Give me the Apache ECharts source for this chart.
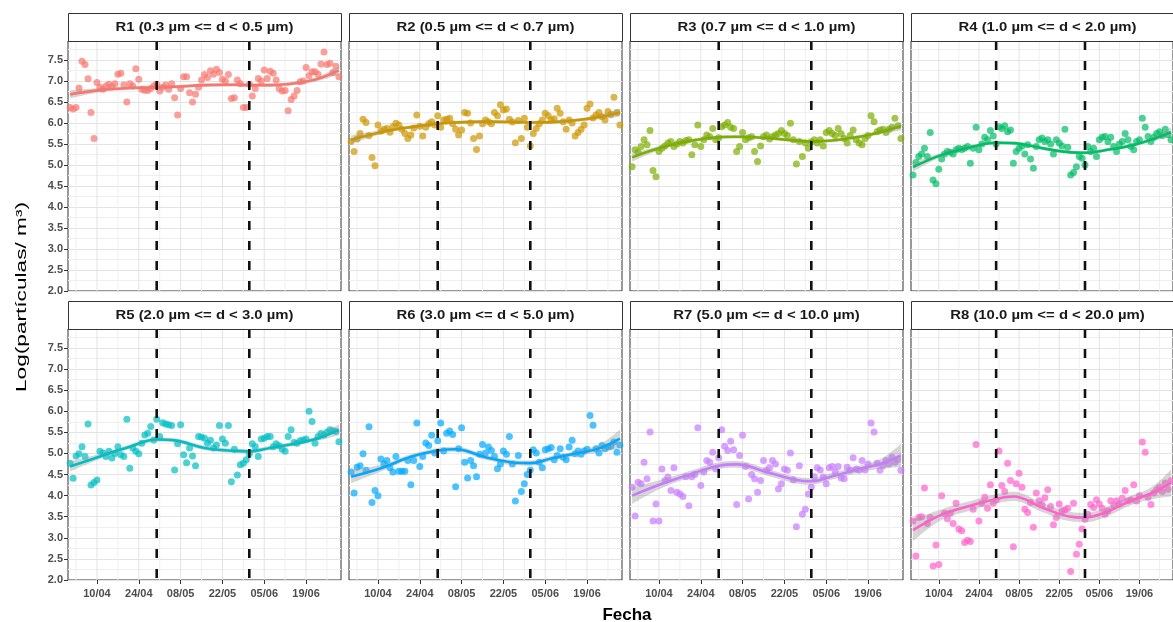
<!DOCTYPE html>
<html><head><meta charset="utf-8">
<script src="https://cdn.jsdelivr.net/npm/echarts@6/dist/echarts.min.js"></script>
<style>html,body{margin:0;padding:0;background:#fff}#c{width:1173px;height:622px}</style>
</head><body><div id="c"></div>
<script>
// ---------- data ----------
const panelTitles = [
  'R1 (0.3 µm <= d < 0.5 µm)', 'R2 (0.5 µm <= d < 0.7 µm)', 'R3 (0.7 µm <= d < 1.0 µm)', 'R4 (1.0 µm <= d < 2.0 µm)',
  'R5 (2.0 µm <= d < 3.0 µm)', 'R6 (3.0 µm <= d < 5.0 µm)', 'R7 (5.0 µm <= d < 10.0 µm)', 'R8 (10.0 µm <= d < 20.0 µm)'
];
const panelColors = ['#F8766D', '#CD9600', '#7CAE00', '#00BE67', '#00BFC4', '#00A9FF', '#C77CFF', '#FF61CC'];
// x = day index, day 0 = 01/04
const tickDays = [9, 23, 37, 51, 65, 79];
const tickLabels = ['10/04', '24/04', '08/05', '22/05', '05/06', '19/06'];
const minorDays = [2, 16, 30, 44, 58, 72, 86];
const eventDays = [29, 60];
const yTicks = [2.0, 2.5, 3.0, 3.5, 4.0, 4.5, 5.0, 5.5, 6.0, 6.5, 7.0, 7.5];

const r1 = [6.37,6.33,6.37,6.83,7.47,7.39,7.05,6.25,5.63,6.96,
 6.85,6.80,6.88,6.92,6.86,6.93,7.16,7.18,6.90,6.50,
 6.93,6.88,7.29,7.04,6.80,6.78,6.77,6.82,6.88,6.92,
 6.76,6.85,6.90,6.80,6.93,6.60,6.19,6.82,7.10,7.10,
 6.72,6.50,6.68,6.85,7.02,7.15,7.08,7.24,7.16,7.28,
 7.20,7.04,7.00,7.15,6.58,6.60,7.02,6.93,6.37,6.37,
 6.92,6.64,6.82,7.06,7.00,7.26,7.06,7.23,7.18,7.02,
 6.82,6.76,6.77,6.29,6.56,6.64,6.77,6.98,7.00,7.32,
 7.12,7.22,7.22,7.16,7.40,7.69,7.39,7.42,7.20,7.35,
 7.10];
const r2 = [5.56,5.32,5.62,5.75,6.09,6.01,5.70,5.18,4.98,5.95,
 5.80,5.85,5.87,5.78,5.91,5.99,5.95,5.85,5.75,5.63,
 5.71,5.88,6.19,5.92,5.69,5.90,5.98,6.03,5.95,6.17,
 5.90,6.07,6.09,6.11,5.98,5.85,5.71,5.83,6.25,6.23,
 6.00,5.63,5.37,5.69,5.98,6.07,6.03,5.98,6.25,6.17,
 6.43,6.31,6.33,6.09,6.02,5.53,6.06,5.63,6.11,5.90,
 5.45,5.75,5.87,5.98,6.07,6.23,6.17,6.07,6.10,6.35,
 6.23,6.03,5.85,6.07,6.00,5.69,5.77,5.85,5.95,6.35,
 6.45,6.12,6.19,6.25,6.15,6.07,6.27,6.20,6.61,6.25,
 5.95];
const r3 = [4.96,5.36,5.30,5.44,5.60,5.48,5.82,4.87,4.72,5.32,
 5.40,5.45,5.52,5.56,5.44,5.50,5.56,5.52,5.58,5.60,
 5.24,5.48,5.95,5.44,5.60,5.71,5.67,5.87,5.60,5.65,
 5.91,5.95,6.01,5.90,5.87,5.32,5.44,5.77,5.60,5.65,
 5.67,5.32,5.08,5.45,5.67,5.71,5.62,5.67,5.71,5.75,
 5.82,5.75,5.70,5.99,5.60,5.02,5.56,5.20,5.52,5.40,
 5.55,5.60,5.52,5.60,5.45,5.77,5.82,5.75,5.70,5.87,
 5.74,5.63,5.52,5.70,5.83,5.60,5.52,5.48,5.63,5.70,
 6.17,6.03,5.79,5.83,5.85,5.77,5.85,5.90,6.11,5.93,
 5.63];
const r4 = [4.76,5.06,5.20,5.26,5.40,5.20,5.77,4.64,4.55,4.90,
 5.14,5.26,5.32,5.30,5.26,5.36,5.40,5.37,5.40,5.44,
 5.04,5.40,5.90,5.36,5.50,5.66,5.60,5.82,5.69,5.50,
 5.91,5.87,5.93,5.79,5.83,5.04,5.32,5.40,5.45,5.26,
 5.48,5.14,4.92,5.44,5.60,5.64,5.56,5.60,5.50,5.26,
 5.60,5.52,5.45,5.85,5.42,4.76,4.82,4.96,5.20,5.16,
 5.00,5.44,5.32,5.40,5.20,5.60,5.66,5.68,5.55,5.66,
 5.44,5.32,5.50,5.56,5.75,5.60,5.44,5.36,5.56,5.60,
 6.11,5.90,5.68,5.56,5.66,5.75,5.79,5.70,5.85,5.72,
 5.60];
const r5 = [4.77,4.41,4.94,4.99,5.16,4.93,5.70,4.25,4.31,4.37,
 5.05,5.01,4.93,5.05,4.89,5.00,5.16,4.97,4.93,5.81,
 4.65,5.13,5.05,4.99,5.24,5.44,5.48,5.64,5.32,5.81,
 5.40,5.73,5.70,5.68,5.66,4.61,5.23,5.68,4.97,4.78,
 5.13,4.94,4.71,5.40,5.39,5.36,5.24,5.31,5.13,5.20,
 5.66,5.34,5.24,5.66,4.33,5.10,4.49,4.73,4.77,4.85,
 4.99,5.23,5.16,4.93,5.34,5.36,5.40,5.40,5.16,5.23,
 5.18,5.10,5.05,5.40,5.56,5.26,5.24,5.30,5.32,5.34,
 6.00,5.76,5.24,5.40,5.47,5.44,5.50,5.56,5.54,5.52,
 5.28];
const r6 = [4.56,4.06,4.67,4.71,4.99,4.60,5.63,3.84,4.12,4.00,
 4.87,4.75,4.83,4.66,4.56,4.93,4.58,4.58,4.58,4.83,
 4.26,4.83,5.72,4.69,4.93,5.25,5.19,5.43,5.01,5.30,
 5.72,5.06,5.48,5.53,5.45,4.21,5.11,5.61,4.79,4.42,
 4.83,4.71,4.45,4.98,5.21,5.01,5.15,5.07,4.93,4.64,
 4.75,5.06,4.98,5.40,4.75,3.87,4.95,4.10,4.28,4.50,
 4.61,5.09,5.01,4.79,4.66,5.09,5.11,5.14,4.85,4.95,
 5.11,4.91,4.85,5.15,5.31,4.99,5.06,4.98,5.06,5.10,
 5.90,5.67,5.11,5.01,5.19,5.11,5.15,5.17,5.27,5.03,
 5.20];
const r7 = [4.20,3.52,4.32,4.28,4.79,4.40,5.51,3.40,3.80,3.40,
 4.63,4.36,4.44,4.12,4.66,4.08,4.04,3.98,4.45,3.76,
 4.45,4.50,5.61,4.24,4.56,4.83,4.79,5.03,4.63,4.90,
 5.56,5.17,5.07,5.29,5.09,3.79,4.95,5.43,4.69,3.92,
 4.50,4.40,4.08,4.36,4.83,4.60,4.66,4.83,4.75,4.16,
 4.28,4.63,4.60,5.01,4.37,3.26,4.71,3.56,3.68,4.04,
 4.20,4.45,4.66,4.61,4.44,4.28,4.66,4.69,4.56,4.69,
 4.42,4.40,4.67,4.61,4.90,4.63,4.60,4.83,4.61,4.75,
 5.72,5.51,4.77,4.60,4.71,4.83,4.75,4.91,4.79,4.85,
 4.60];
const r8 = [3.40,2.57,3.48,3.50,4.18,3.34,3.48,2.33,2.83,2.37,
 4.00,3.58,3.45,3.58,3.34,3.82,3.21,3.17,2.89,2.94,
 2.91,3.68,5.21,3.40,3.82,3.96,3.70,4.26,3.82,3.90,
 5.06,4.24,4.10,4.77,4.36,2.79,4.28,4.53,4.20,3.68,
 3.60,3.84,3.25,4.06,3.88,3.79,3.95,4.14,3.74,3.31,
 3.48,3.80,3.64,3.66,3.70,2.20,3.82,2.61,2.85,3.21,
 3.44,3.56,3.79,3.72,3.90,3.80,3.70,3.56,3.64,3.88,
 3.76,3.88,3.80,3.94,4.12,3.88,3.90,4.26,3.87,4.00,
 5.27,5.03,3.96,3.79,4.06,4.14,4.20,4.10,4.30,4.15,
 4.35];

// smoothed fit (loess) read at these days, with half-width of the grey band
const fitDays = [0, 10, 20, 29, 35, 45, 55, 60, 67, 76, 83, 90];
const r1Fit = [6.68,6.78,6.83,6.85,6.86,6.90,6.91,6.90,6.90,6.95,7.05,7.25];
const r2Fit = [5.60,5.78,5.90,5.98,6.01,6.03,6.02,6.01,6.02,6.07,6.14,6.25];
const r3Fit = [5.18,5.42,5.58,5.66,5.67,5.64,5.58,5.56,5.58,5.67,5.78,5.92];
const r4Fit = [4.95,5.24,5.42,5.53,5.52,5.40,5.30,5.29,5.35,5.46,5.60,5.78];
const r5Fit = [4.69,4.93,5.16,5.33,5.31,5.13,5.06,5.05,5.13,5.24,5.36,5.56];
const r6Fit = [4.45,4.65,4.92,5.07,5.10,4.91,4.78,4.77,4.88,5.01,5.12,5.35];
const r7Fit = [4.00,4.28,4.52,4.71,4.74,4.56,4.37,4.34,4.46,4.63,4.75,4.95];
const r8Fit = [3.18,3.55,3.76,3.92,3.98,3.72,3.50,3.48,3.60,3.88,4.05,4.30];
const r1Se = [0.10,0.05,0.04,0.04,0.04,0.04,0.04,0.04,0.04,0.04,0.05,0.10];
const r2Se = [0.10,0.05,0.04,0.04,0.04,0.04,0.04,0.04,0.04,0.04,0.05,0.10];
const r3Se = [0.10,0.05,0.04,0.04,0.04,0.04,0.04,0.04,0.04,0.04,0.05,0.10];
const r4Se = [0.11,0.05,0.04,0.04,0.04,0.04,0.04,0.04,0.04,0.04,0.05,0.11];
const r5Se = [0.12,0.06,0.05,0.05,0.05,0.05,0.05,0.05,0.05,0.05,0.06,0.13];
const r6Se = [0.16,0.08,0.06,0.06,0.06,0.06,0.06,0.06,0.06,0.06,0.09,0.22];
const r7Se = [0.20,0.10,0.08,0.08,0.08,0.08,0.08,0.08,0.08,0.08,0.11,0.28];
const r8Se = [0.26,0.13,0.11,0.11,0.11,0.11,0.11,0.11,0.11,0.11,0.14,0.32];

const pointSets = [r1, r2, r3, r4, r5, r6, r7, r8];
const fitSets = [r1Fit, r2Fit, r3Fit, r4Fit, r5Fit, r6Fit, r7Fit, r8Fit];
const seSets = [r1Se, r2Se, r3Se, r4Se, r5Se, r6Se, r7Se, r8Se];

// ---------- layout ----------
const FONT = '"Liberation Sans", Arial, Helvetica, sans-serif';
const lefts = [68, 349, 630, 911];
const tops = [41, 329];
const heights = [250, 251];
const stripTops = [13, 301];
const W = 273;
const Y_MIN = 2, Y_MAX = 7.95;

const chart = echarts.init(document.getElementById('c'), null, {renderer: 'canvas'});
const mctx = document.createElement('canvas').getContext('2d');
function textWidth(t, font) { mctx.font = font; return mctx.measureText(t).width; }

function vlineRender(style) {
  return function (params, api) {
    const x = api.coord([api.value(0), Y_MIN])[0];
    const cs = params.coordSys;
    return {
      type: 'line',
      shape: {x1: x, y1: cs.y, x2: x, y2: cs.y + cs.height},
      style: Object.assign({fill: null}, style),
      silent: true
    };
  };
}

// strip titles in the reference are wide: R2's title spans ~178 px
const stripFont = 'bold 12.5px ' + FONT;
const stripStretch = 178 / textWidth(panelTitles[1], stripFont);

const grids = [], xAxes = [], yAxes = [], series = [], graphics = [];
for (let i = 0; i < 8; i++) {
  const row = Math.floor(i / 4), col = i % 4;
  grids.push({left: lefts[col], top: tops[row], width: W, height: heights[row],
    show: true, borderColor: '#333333', borderWidth: 1, backgroundColor: 'transparent'});
  xAxes.push({
    type: 'value', gridIndex: i, min: -0.7, max: 90.7,
    splitLine: {show: false},
    axisLine: {show: false, onZero: false},
    axisTick: {show: row === 1, customValues: tickDays, length: 4, lineStyle: {color: '#333333'}},
    axisLabel: {show: row === 1, customValues: tickDays, margin: 8,
      formatter: v => { const k = tickDays.indexOf(Math.round(v)); return k >= 0 ? tickLabels[k] : ''; },
      color: '#4d4d4d', fontSize: 11, fontWeight: 'bold', fontFamily: FONT}
  });
  yAxes.push({
    type: 'value', gridIndex: i, min: Y_MIN, max: Y_MAX, interval: 0.5,
    splitLine: {show: true, lineStyle: {color: '#e3e3e3', width: 1}},
    minorTick: {show: false, splitNumber: 2},
    minorSplitLine: {show: true, lineStyle: {color: '#efefef', width: 1}},
    axisLine: {show: false, onZero: false},
    axisTick: {show: col === 0, customValues: yTicks, length: 4, lineStyle: {color: '#333333'}},
    axisLabel: {show: col === 0, margin: 5,
      formatter: v => { const k = yTicks.findIndex(t => Math.abs(t - v) < 1e-6); return k >= 0 ? yTicks[k].toFixed(1) : ''; },
      color: '#4d4d4d', fontSize: 11, fontWeight: 'bold', fontFamily: FONT}
  });
  // vertical grid lines
  series.push({type: 'custom', xAxisIndex: i, yAxisIndex: i, z: 1, silent: true,
    renderItem: vlineRender({stroke: '#efefef', lineWidth: 1}),
    data: minorDays.map(d => [d, Y_MIN])});
  series.push({type: 'custom', xAxisIndex: i, yAxisIndex: i, z: 1, silent: true,
    renderItem: vlineRender({stroke: '#e3e3e3', lineWidth: 1}),
    data: tickDays.map(d => [d, Y_MIN])});
  // points
  series.push({type: 'scatter', xAxisIndex: i, yAxisIndex: i, z: 3, silent: true,
    symbolSize: 7, itemStyle: {color: panelColors[i], opacity: 0.7},
    data: pointSets[i].map((v, d) => [d, v])});
  // confidence band: stacked on y (y given as first column so it is the stacked dimension)
  const fit = fitSets[i], se = seSets[i];
  series.push({type: 'line', xAxisIndex: i, yAxisIndex: i, z: 4, silent: true, stack: 'band' + i,
    smooth: 0.4, symbol: 'none', lineStyle: {opacity: 0}, encode: {x: 1, y: 0},
    data: fitDays.map((d, k) => [fit[k] - se[k], d])});
  series.push({type: 'line', xAxisIndex: i, yAxisIndex: i, z: 4, silent: true, stack: 'band' + i,
    smooth: 0.4, symbol: 'none', lineStyle: {opacity: 0}, encode: {x: 1, y: 0},
    areaStyle: {color: '#999999', opacity: 0.4},
    data: fitDays.map((d, k) => [2 * se[k], d])});
  // fitted curve
  series.push({type: 'line', xAxisIndex: i, yAxisIndex: i, z: 5, silent: true,
    smooth: 0.4, symbol: 'none', lineStyle: {color: panelColors[i], width: 2.6},
    data: fitDays.map((d, k) => [d, fit[k]])});
  // event dashed lines
  series.push({type: 'custom', xAxisIndex: i, yAxisIndex: i, z: 6, silent: true,
    renderItem: vlineRender({stroke: '#111111', lineWidth: 2.6, lineDash: [9, 11]}),
    data: eventDays.map(d => [d, Y_MIN])});
  // strip
  graphics.push({type: 'rect', z: 10, silent: true,
    shape: {x: lefts[col] + 0.5, y: stripTops[row] + 0.5, width: W, height: 28},
    style: {fill: '#ffffff', stroke: '#333333', lineWidth: 1}});
  graphics.push({type: 'text', z: 11, silent: true,
    x: lefts[col] + W / 2, y: stripTops[row] + 15, scaleX: stripStretch,
    style: {text: panelTitles[i], align: 'center', verticalAlign: 'middle',
      font: stripFont, fill: '#1a1a1a'}});
}
// y title: the reference's title is stretched along its length (~190 px)
const yTitle = 'Log(partículas/ m³)';
const yTitleFont = '15px ' + FONT;
const yTitleStretch = 190 / textWidth(yTitle, yTitleFont);
graphics.push({type: 'text', z: 11, silent: true, x: 22, y: 297, rotation: Math.PI / 2, scaleX: yTitleStretch,
  style: {text: yTitle, align: 'center', verticalAlign: 'middle', font: yTitleFont, fill: '#000000'}});
graphics.push({type: 'text', z: 11, silent: true, x: 627, y: 615,
  style: {text: 'Fecha', align: 'center', verticalAlign: 'middle', font: 'bold 17px ' + FONT, fill: '#000000'}});

chart.setOption({
  animation: false,
  backgroundColor: '#ffffff',
  grid: grids, xAxis: xAxes, yAxis: yAxes, series: series, graphic: graphics
});
</script></body></html>
